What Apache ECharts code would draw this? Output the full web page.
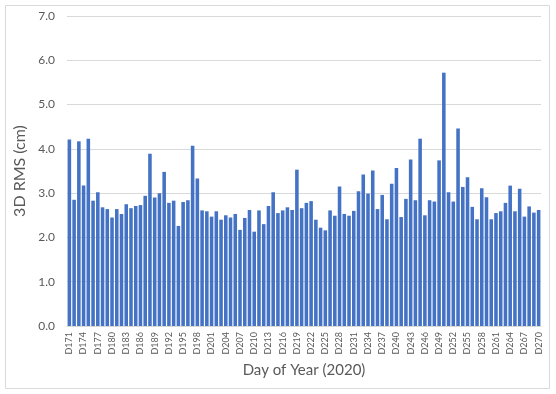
<!DOCTYPE html>
<html>
<head>
<meta charset="utf-8">
<script src="https://cdn.jsdelivr.net/npm/echarts@6/dist/echarts.min.js"></script>
<style>
html,body{margin:0;padding:0;background:#fff;}
#c{width:556px;height:394px;}
</style>
</head>
<body>
<div id="c"></div>
<script>
var days = [];
for (var d = 171; d <= 270; d++) days.push('D' + d);
var rms = [
  4.21, 2.85, 4.17, 3.17, 4.23, 2.83, 3.02, 2.68, 2.64, 2.45,
  2.64, 2.53, 2.75, 2.66, 2.71, 2.73, 2.94, 3.89, 2.90, 3.00,
  3.48, 2.78, 2.83, 2.26, 2.80, 2.84, 4.07, 3.33, 2.61, 2.59,
  2.47, 2.59, 2.40, 2.50, 2.45, 2.53, 2.17, 2.44, 2.62, 2.13,
  2.61, 2.30, 2.71, 3.02, 2.55, 2.61, 2.68, 2.62, 3.53, 2.66,
  2.78, 2.82, 2.40, 2.22, 2.16, 2.61, 2.49, 3.15, 2.53, 2.49,
  2.60, 3.04, 3.42, 2.99, 3.51, 2.64, 2.96, 2.41, 3.21, 3.57,
  2.46, 2.87, 3.76, 2.84, 4.23, 2.50, 2.84, 2.81, 3.74, 5.72,
  3.02, 2.81, 4.46, 3.14, 3.36, 2.69, 2.41, 3.11, 2.91, 2.41,
  2.55, 2.59, 2.78, 3.17, 2.59, 3.10, 2.47, 2.70, 2.56, 2.62
];
var yTicks = [0, 1, 2, 3, 4, 5, 6, 7];

var chart = echarts.init(document.getElementById('c'));
chart.setOption({
  animation: false,
  textStyle: {fontFamily: 'Lato, "Liberation Sans", sans-serif'},
  graphic: [{
    type: 'rect', shape: {x: 5.5, y: 5.5, width: 544, height: 383},
    style: {fill: 'none', stroke: '#d9d9d9', lineWidth: 1}, silent: true, z: -10
  }],
  grid: {left: 67, right: 15, top: 16, bottom: 68},
  xAxis: {
    type: 'category',
    data: days,
    name: 'Day of Year (2020)',
    nameLocation: 'middle',
    nameGap: 35,
    nameTextStyle: {fontSize: 15, color: '#595959'},
    axisLine: {show: true, lineStyle: {color: '#d9d9d9'}},
    axisTick: {show: false},
    axisLabel: {interval: 2, rotate: 90, fontSize: 9, color: '#595959', margin: 6},
    boundaryGap: true
  },
  yAxis: {
    type: 'value',
    min: yTicks[0],
    max: yTicks[yTicks.length - 1],
    interval: 1,
    name: '3D RMS (cm)',
    nameLocation: 'middle',
    nameGap: 28,
    nameTextStyle: {fontSize: 16, color: '#595959'},
    axisLine: {show: false},
    axisTick: {show: false},
    axisLabel: {fontSize: 12, color: '#595959', margin: 12,
      formatter: function (v) { return v.toFixed(1); }},
    splitLine: {lineStyle: {color: '#d9d9d9'}}
  },
  series: [{
    type: 'bar',
    data: rms,
    barCategoryGap: '25%',
    itemStyle: {color: '#4472C4'}
  }]
});
</script>
</body>
</html>
